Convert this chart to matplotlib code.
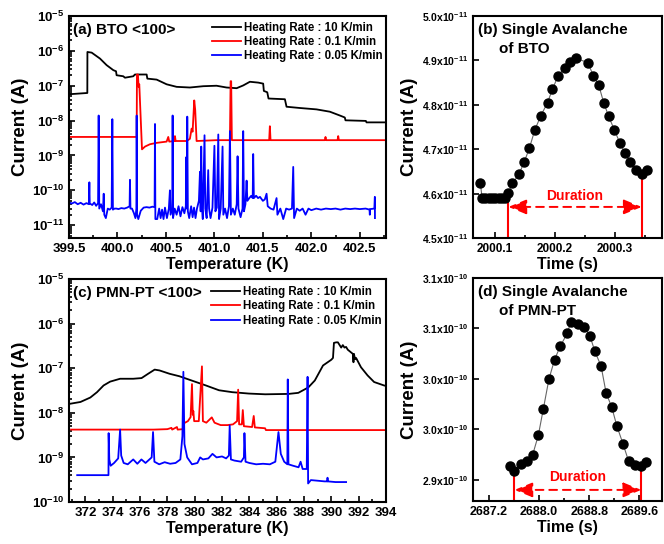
import matplotlib
matplotlib.use('Agg')
import matplotlib.pyplot as plt
from matplotlib.ticker import FuncFormatter, FixedLocator, MultipleLocator, LogLocator, NullFormatter
from decimal import Decimal, ROUND_HALF_UP
import numpy as np

plt.rcParams['font.family'] = ['Liberation Sans', 'DejaVu Sans']
plt.rcParams['font.weight'] = 'bold'
plt.rcParams['mathtext.fontset'] = 'custom'
plt.rcParams['mathtext.rm'] = 'Liberation Sans:bold'
plt.rcParams['mathtext.bf'] = 'Liberation Sans:bold'
plt.rcParams['mathtext.it'] = 'Liberation Sans:bold'
plt.rcParams['axes.linewidth'] = 1.5

rate_labels = ['Heating Rate : 10 K/min', 'Heating Rate : 0.1 K/min', 'Heating Rate : 0.05 K/min']
rate_colors = ['black', 'red', 'blue']

# ---- (a) BTO, current vs temperature ----
bto_10_T = [399.500, 399.689, 399.690, 399.734, 399.820, 399.888, 399.957, 399.985, 399.991, 400.060,
            400.077, 400.163, 400.180, 400.301, 400.308, 400.404, 400.507, 400.610, 400.747, 400.885,
            401.022, 401.125, 401.229, 401.297, 401.366, 401.452, 401.503, 401.510, 401.545, 401.558,
            401.727, 401.744, 401.881, 402.053, 402.191, 402.294, 402.345, 402.352, 402.562, 402.569, 402.775]
bto_10_I = [5.7e-8, 6.2e-8, 9.3e-7, 8.9e-7, 6.0e-7, 3.9e-7, 2.8e-7, 2.6e-7, 2.0e-7, 1.87e-7,
            1.7e-7, 1.87e-7, 2.1e-7, 2.1e-7, 1.6e-7, 1.5e-7, 1.1e-7, 9.3e-8, 8.9e-8, 9.7e-8,
            1.0e-7, 8.9e-8, 8.5e-8, 1.02e-7, 1.3e-7, 1.23e-7, 1.15e-7, 7.1e-8, 6.5e-8, 4.3e-8,
            4.1e-8, 2.5e-8, 2.3e-8, 2.1e-8, 1.8e-8, 1.4e-8, 1.23e-8, 1.02e-8, 9.8e-9, 8.9e-9, 8.9e-9]

bto_01_T = [399.500, 400.198, 400.201, 400.211, 400.218, 400.225, 400.253, 400.284, 400.335, 400.404,
            400.507, 400.524, 400.534, 400.590, 400.593, 400.600, 400.713, 400.747, 400.765, 400.775,
            400.792, 400.802, 400.816, 401.022, 401.160, 401.167, 401.173, 401.180, 401.565, 401.572,
            401.579, 402.139, 402.146, 402.153, 402.270, 402.277, 402.284, 402.775]
bto_01_I = [3.4e-9, 3.4e-9, 2.1e-7, 2.1e-7, 9.3e-8, 1.1e-7, 1.5e-9, 1.8e-9, 2.1e-9, 2.3e-9,
            2.5e-9, 3.4e-9, 2.5e-9, 2.6e-9, 3.6e-9, 2.6e-9, 2.6e-9, 3.0e-9, 5.9e-9, 4.8e-9,
            3.8e-8, 2.0e-8, 2.6e-9, 2.75e-9, 2.75e-9, 1.35e-7, 1.35e-7, 2.75e-9, 2.75e-9, 6.9e-9,
            2.75e-9, 2.75e-9, 3.4e-9, 2.75e-9, 2.75e-9, 3.6e-9, 2.75e-9, 2.75e-9]

bto_005_T = [399.500, 399.530, 399.560, 399.590, 399.620, 399.650, 399.680, 399.705, 399.710, 399.714,
             399.740, 399.760, 399.780, 399.800, 399.806, 399.812, 399.830, 399.850, 399.858, 399.864,
             399.880, 399.900, 399.920, 399.940, 399.947, 399.953, 399.970, 399.990, 400.010, 400.040,
             400.070, 400.100, 400.125, 400.129, 400.134, 400.150, 400.170, 400.185, 400.195, 400.198,
             400.202, 400.215, 400.240, 400.270, 400.300, 400.330, 400.360, 400.383, 400.387, 400.391,
             400.410, 400.430, 400.445, 400.460, 400.475, 400.490, 400.510, 400.530, 400.541, 400.548,
             400.565, 400.569, 400.573, 400.590, 400.610, 400.630, 400.650, 400.670, 400.690, 400.705,
             400.710, 400.716, 400.720, 400.726, 400.740, 400.760, 400.775, 400.790, 400.805, 400.820,
             400.840, 400.851, 400.858, 400.864, 400.872, 400.880, 400.898, 400.906, 400.920, 400.936,
             400.945, 400.960, 400.980, 401.000, 401.010, 401.025, 401.040, 401.048, 401.065, 401.084,
             401.092, 401.110, 401.130, 401.150, 401.160, 401.170, 401.190, 401.210, 401.230, 401.239,
             401.248, 401.270, 401.290, 401.297, 401.305, 401.320, 401.332, 401.340, 401.360, 401.380,
             401.395, 401.400, 401.407, 401.430, 401.450, 401.470, 401.500, 401.520, 401.538, 401.550,
             401.580, 401.610, 401.641, 401.650, 401.680, 401.710, 401.740, 401.770, 401.800, 401.813,
             401.822, 401.850, 401.880, 401.910, 401.940, 401.970, 402.000, 402.050, 402.100, 402.150,
             402.200, 402.250, 402.300, 402.350, 402.400, 402.450, 402.500, 402.560, 402.600, 402.603,
             402.606, 402.650, 402.655, 402.656]
bto_005_I = [4.5e-11, 4.2e-11, 4.6e-11, 4.0e-11, 4.4e-11, 3.9e-11, 4.3e-11, 4.0e-11, 1.7e-10, 4.2e-11,
             3.8e-11, 4.5e-11, 3.6e-11, 4.3e-11, 1.4e-8, 3.0e-11, 4.0e-11, 2.5e-11, 8.0e-11, 2.0e-11,
             1.6e-11, 3.0e-11, 2.8e-11, 3.2e-11, 1.1e-8, 2.8e-11, 3.0e-11, 3.0e-11, 2.9e-11, 3.1e-11,
             3.0e-11, 3.2e-11, 3.5e-11, 2.0e-10, 3.0e-11, 3.0e-11, 2.2e-11, 1.6e-11, 3.0e-11, 1.4e-8,
             2.0e-11, 1.5e-11, 2.6e-11, 3.2e-11, 3.3e-11, 3.2e-11, 3.4e-11, 3.3e-11, 8.0e-9, 1.5e-11,
             1.5e-11, 3.0e-11, 1.6e-11, 2.8e-11, 1.5e-11, 3.2e-11, 1.6e-11, 3.0e-11, 1.0e-10, 2.0e-11,
             3.0e-11, 1.4e-8, 1.6e-11, 3.0e-11, 2.0e-11, 3.5e-11, 1.8e-11, 3.3e-11, 2.2e-11, 3.5e-11,
             9.0e-10, 3.0e-11, 1.3e-8, 2.5e-11, 1.6e-11, 3.5e-11, 1.7e-11, 3.2e-11, 1.6e-11, 3.0e-11,
             5.0e-11, 3.4e-10, 2.5e-11, 1.8e-9, 3.0e-11, 1.5e-11, 3.8e-9, 3.0e-11, 1.6e-11, 3.8e-10,
             3.0e-11, 1.6e-11, 3.2e-11, 1.9e-9, 2.5e-11, 3.2e-11, 4.0e-9, 1.5e-11, 3.0e-11, 1.8e-9,
             2.0e-11, 3.0e-11, 1.6e-11, 3.5e-11, 5.0e-9, 2.0e-11, 3.0e-11, 2.0e-11, 4.0e-11, 9.5e-10,
             3.0e-11, 1.7e-11, 3.0e-11, 5.0e-9, 2.5e-11, 4.0e-11, 1.9e-10, 5.0e-11, 6.0e-11, 7.0e-11,
             6.0e-11, 1.1e-9, 6.0e-11, 7.0e-11, 6.0e-11, 6.5e-11, 5.0e-11, 5.5e-11, 8.0e-11, 3.5e-11,
             3.0e-11, 2.8e-11, 6.0e-11, 2.0e-11, 3.0e-11, 1.5e-11, 3.0e-11, 2.8e-11, 3.0e-11, 4.7e-10,
             1.6e-11, 3.0e-11, 2.6e-11, 3.0e-11, 2.0e-11, 3.0e-11, 2.7e-11, 3.0e-11, 2.8e-11, 3.0e-11,
             2.9e-11, 3.0e-11, 2.8e-11, 3.0e-11, 2.9e-11, 3.0e-11, 2.9e-11, 3.0e-11, 2.8e-11, 2.0e-11,
             2.9e-11, 3.0e-11, 6.5e-11, 1.6e-11]

# ---- (c) PMN-PT, current vs temperature ----
pmn_10_T = [370.91, 371.64, 372.36, 372.85, 373.33, 373.81, 374.54, 375.50, 376.11, 376.59,
            377.07, 377.43, 378.16, 378.88, 379.85, 380.82, 381.78, 382.75, 383.96, 385.16,
            386.86, 387.58, 388.31, 388.79, 389.39, 390.00, 390.12, 390.19, 390.36, 390.48,
            390.72, 390.84, 390.96, 391.08, 391.20, 391.57, 391.62, 391.65, 391.74, 391.81,
            392.17, 392.65, 393.13, 393.86, 394.00]
pmn_10_I = [1.6e-8, 1.75e-8, 2.2e-8, 2.9e-8, 4.1e-8, 5.0e-8, 5.8e-8, 5.8e-8, 6.0e-8, 7.5e-8,
            9.3e-8, 8.9e-8, 7.5e-8, 6.6e-8, 5.2e-8, 4.1e-8, 3.2e-8, 2.9e-8, 2.7e-8, 2.6e-8,
            2.65e-8, 2.8e-8, 3.7e-8, 5.3e-8, 1.15e-7, 1.55e-7, 1.7e-7, 3.7e-7, 3.8e-7, 3.8e-7,
            2.9e-7, 3.3e-7, 2.9e-7, 3.0e-7, 2.6e-7, 2.1e-7, 1.36e-7, 2.1e-7, 1.6e-7, 1.7e-7,
            1.05e-7, 6.9e-8, 4.9e-8, 4.1e-8, 4.0e-8]

pmn_01_T = [370.95, 374.00, 377.00, 378.00, 378.30, 378.35, 378.70, 378.75, 379.13, 379.20,
            379.50, 379.70, 379.80, 379.86, 379.90, 379.96, 380.30, 380.53, 380.60, 380.85,
            381.25, 381.45, 381.90, 382.40, 382.80, 383.10, 383.18, 383.25, 383.45, 383.52,
            383.60, 384.20, 384.32, 384.40, 385.15, 385.21, 394.00]
pmn_01_I = [4.2e-9, 4.2e-9, 4.2e-9, 4.3e-9, 4.6e-9, 4.2e-9, 4.8e-9, 4.2e-9, 4.3e-9, 5.8e-9,
            6.5e-9, 8.0e-9, 4.4e-8, 9.0e-9, 1.1e-8, 6.5e-9, 6.5e-9, 1.1e-7, 6.5e-9, 6.0e-9,
            7.9e-9, 6.0e-9, 5.3e-9, 5.3e-9, 5.5e-9, 6.5e-9, 3.3e-8, 5.5e-9, 5.5e-9, 1.15e-8,
            5.0e-9, 4.8e-9, 8.5e-9, 4.7e-9, 4.5e-9, 4.1e-9, 4.1e-9]

pmn_005_T = [371.40, 372.50, 373.69, 373.70, 373.75, 373.85, 374.10, 374.40, 374.54, 374.62,
             374.80, 375.10, 375.50, 375.80, 376.10, 376.40, 376.85, 376.95, 377.05, 377.40,
             377.80, 378.20, 378.60, 378.95, 379.10, 379.17, 379.25, 379.45, 379.80, 380.20,
             380.40, 380.60, 381.00, 381.30, 381.60, 382.00, 382.30, 382.50, 382.56, 382.65,
             382.90, 383.40, 383.60, 383.64, 383.72, 384.00, 384.50, 385.00, 385.50, 385.90,
             386.13, 386.30, 386.55, 386.78, 386.81, 386.86, 387.20, 387.60, 387.75, 387.90,
             388.20, 388.26, 388.30, 388.50, 389.00, 389.50, 389.70, 389.72, 389.74, 390.30, 391.08]
pmn_005_I = [4.0e-10, 4.0e-10, 4.0e-10, 3.5e-9, 9.0e-10, 6.5e-10, 7.5e-10, 9.5e-10, 4.2e-9, 1.1e-9,
             7.5e-10, 7.0e-10, 9.0e-10, 7.2e-10, 9.0e-10, 7.5e-10, 1.0e-9, 3.7e-9, 8.0e-10, 7.0e-10,
             7.8e-10, 7.2e-10, 7.5e-10, 9.0e-10, 3.0e-9, 8.3e-8, 2.0e-9, 1.0e-9, 7.0e-10, 7.5e-10,
             1.0e-9, 9.0e-10, 9.5e-10, 1.2e-9, 1.0e-9, 1.05e-9, 9.5e-10, 1.1e-9, 5.2e-9, 9.0e-10,
             8.5e-10, 8.0e-10, 1.0e-9, 3.5e-9, 8.0e-10, 7.5e-10, 7.0e-10, 7.2e-10, 7.0e-10, 8.0e-10,
             3.7e-9, 1.2e-9, 8.0e-10, 7.0e-10, 5.6e-8, 7.0e-10, 6.5e-10, 6.0e-10, 8.0e-10, 5.5e-10,
             5.5e-10, 6.4e-8, 2.6e-10, 3.1e-10, 3.0e-10, 2.9e-10, 2.9e-10, 3.5e-10, 2.9e-10, 2.8e-10, 2.8e-10]

# ---- (b) single avalanche of BTO ----
bto_t = [2000.0763, 2000.0791, 2000.0846, 2000.0901, 2000.0956, 2000.1011, 2000.1066, 2000.1121, 2000.1176,
         2000.1230, 2000.1298, 2000.1408, 2000.1496, 2000.1579, 2000.1672, 2000.1766, 2000.1882, 2000.1964,
         2000.2058, 2000.2168, 2000.2262, 2000.2350, 2000.2554, 2000.2647, 2000.2736, 2000.2818, 2000.2901,
         2000.2994, 2000.3088, 2000.3171, 2000.3259, 2000.3353, 2000.3452, 2000.3545]
bto_i = [4.623e-11, 4.591e-11, 4.591e-11, 4.591e-11, 4.591e-11, 4.591e-11, 4.591e-11, 4.591e-11, 4.591e-11,
         4.602e-11, 4.623e-11, 4.644e-11, 4.672e-11, 4.702e-11, 4.744e-11, 4.774e-11, 4.805e-11, 4.835e-11,
         4.865e-11, 4.884e-11, 4.897e-11, 4.905e-11, 4.895e-11, 4.865e-11, 4.844e-11, 4.805e-11, 4.774e-11,
         4.744e-11, 4.714e-11, 4.692e-11, 4.672e-11, 4.653e-11, 4.644e-11, 4.653e-11]
bto_start, bto_end = 2000.1230, 2000.3452

# ---- (d) single avalanche of PMN-PT ----
pmn_t = [2687.54, 2687.61, 2687.72, 2687.81, 2687.90, 2687.99, 2688.07, 2688.16, 2688.25, 2688.34,
         2688.45, 2688.51, 2688.62, 2688.72, 2688.81, 2688.89, 2688.99, 2689.07, 2689.16, 2689.24,
         2689.34, 2689.43, 2689.53, 2689.63, 2689.70]
pmn_i = [2.9139e-10, 2.9083e-10, 2.9156e-10, 2.9182e-10, 2.9248e-10, 2.9440e-10, 2.9702e-10, 3.0000e-10,
         3.0192e-10, 3.0325e-10, 3.0450e-10, 3.0566e-10, 3.0540e-10, 3.0513e-10, 3.0430e-10, 3.0275e-10,
         3.0126e-10, 2.9861e-10, 2.9719e-10, 2.9536e-10, 2.9354e-10, 2.9182e-10, 2.9149e-10, 2.9132e-10,
         2.9175e-10]
pmn_start, pmn_end = 2687.61, 2689.63

W, H = 664, 544
fig = plt.figure(figsize=(W / 100, H / 100), dpi=100)


def box(l, t, r, b):
    return [l / W, 1 - b / H, (r - l) / W, (b - t) / H]


ax_a = fig.add_axes(box(69, 16, 386, 238))
ax_b = fig.add_axes(box(473, 16, 662, 238))
ax_c = fig.add_axes(box(69, 279, 386, 502))
ax_d = fig.add_axes(box(473, 278, 662, 501))


def style(ax):
    ax.tick_params(which='both', direction='in', top=False, right=False, width=1.2)
    ax.tick_params(which='major', length=4.5)
    ax.tick_params(which='minor', length=2.5)


def decade(v, pos):
    return r'$\mathbf{10^{%d}}$' % round(np.log10(v))


def temp_panel(ax, series, xlim, ylim, xmajor, xfmt, title, leg_xy):
    for (T, I), c, lab in zip(series, rate_colors, rate_labels):
        ax.plot(T, I, color=c, lw=1.3, label=lab)
    ax.set_yscale('log')
    ax.set_xlim(*xlim)
    ax.set_ylim(*ylim)
    ax.yaxis.set_major_locator(LogLocator(base=10, numticks=12))
    ax.yaxis.set_major_formatter(FuncFormatter(decade))
    ax.yaxis.set_minor_locator(LogLocator(base=10, subs=np.arange(2, 10), numticks=12))
    ax.yaxis.set_minor_formatter(NullFormatter())
    ax.xaxis.set_major_locator(MultipleLocator(xmajor))
    ax.xaxis.set_minor_locator(MultipleLocator(xmajor / 2))
    ax.xaxis.set_major_formatter(FuncFormatter(lambda v, p: xfmt % v))
    style(ax)
    ax.tick_params(labelsize=9.5)
    ax.set_xlabel('Temperature (K)', fontsize=11.5, fontweight='bold', labelpad=1.5)
    ax.set_ylabel('Current (A)', fontsize=13.5, fontweight='bold', labelpad=2)
    ax.text(0.013, 0.935, title, transform=ax.transAxes, fontsize=11, fontweight='bold', va='center')
    ax.legend(loc='upper left', bbox_to_anchor=leg_xy, frameon=False, fontsize=8.3,
              handlelength=2.5, handletextpad=0.25, labelspacing=0.2, borderpad=0, borderaxespad=0)


temp_panel(ax_a, [(bto_10_T, bto_10_I), (bto_01_T, bto_01_I), (bto_005_T, bto_005_I)],
           (399.5, 402.77), (4.3e-12, 1e-5), 0.5, '%.1f', '(a) BTO <100>', (0.452, 0.975))
temp_panel(ax_c, [(pmn_10_T, pmn_10_I), (pmn_01_T, pmn_01_I), (pmn_005_T, pmn_005_I)],
           (370.8, 394.0), (1e-10, 1e-5), 2, '%d', '(c) PMN-PT <100>', (0.449, 0.968))


def avalanche_panel(ax, t, i, start, end, xlim, ylim, yticks, ylabels, xmajor, xfmt, xsize,
                    line1, line2, arrow_y, text_y):
    ax.plot(t, i, color='#666666', lw=0.8, marker='o', ms=6.5, mfc='black', mec='black', zorder=3)
    ax.set_xlim(*xlim)
    ax.set_ylim(*ylim)
    # red markers at the start and end of the avalanche
    for x in (start, end):
        ax.plot([x, x], [ylim[0], i[t.index(x)]], color='red', lw=1.5, zorder=2)
    ax.annotate('', xy=(start, arrow_y), xytext=(end, arrow_y),
                arrowprops=dict(arrowstyle='<|-|>,head_length=1.1,head_width=0.45', color='red',
                                lw=1.4, ls=(0, (4, 3)), shrinkA=0, shrinkB=0))
    ax.text((start + end) / 2, text_y, 'Duration', color='red', fontsize=10, fontweight='bold',
            ha='center', va='center')
    ax.set_yticks(yticks, ylabels)
    ax.xaxis.set_major_locator(MultipleLocator(xmajor))
    ax.xaxis.set_minor_locator(MultipleLocator(xmajor / 2))
    ax.xaxis.set_major_formatter(FuncFormatter(lambda v, p: xfmt % v))
    style(ax)
    ax.tick_params(axis='y', labelsize=7.5)
    ax.tick_params(axis='x', labelsize=xsize)
    ax.set_xlabel('Time (s)', fontsize=11.5, fontweight='bold', labelpad=1.5)
    ax.set_ylabel('Current (A)', fontsize=13.5, fontweight='bold', labelpad=3)
    ax.text(0.026, 0.935, line1, transform=ax.transAxes, fontsize=11, fontweight='bold', va='center')
    ax.text(0.137, 0.853, line2, transform=ax.transAxes, fontsize=11, fontweight='bold', va='center')


def sci(v, exp):
    m = Decimal(repr(round(v / 10 ** exp, 3))).quantize(Decimal('0.1'), rounding=ROUND_HALF_UP)
    return r'$\mathbf{%sx10^{%d}}$' % (m, exp)


bto_ticks = [4.5e-11, 4.6e-11, 4.7e-11, 4.8e-11, 4.9e-11, 5.0e-11]
pmn_ticks = [2.90e-10, 2.95e-10, 3.00e-10, 3.05e-10, 3.10e-10]

avalanche_panel(ax_b, bto_t, bto_i, bto_start, bto_end, (2000.064, 2000.379), (4.5e-11, 5.0e-11),
                bto_ticks, [sci(v, -11) for v in bto_ticks], 0.1, '%.1f', 8.5,
                '(b) Single Avalanche', 'of BTO', 4.570e-11, 4.594e-11)
avalanche_panel(ax_d, pmn_t, pmn_i, pmn_start, pmn_end, (2686.95, 2689.96), (2.879e-10, 3.10e-10),
                pmn_ticks, [sci(v, -10) for v in pmn_ticks], 0.8, '%.1f', 9,
                '(d) Single Avalanche', 'of PMN-PT', 2.890e-10, 2.903e-10)

fig.savefig('out.png', dpi=100)
